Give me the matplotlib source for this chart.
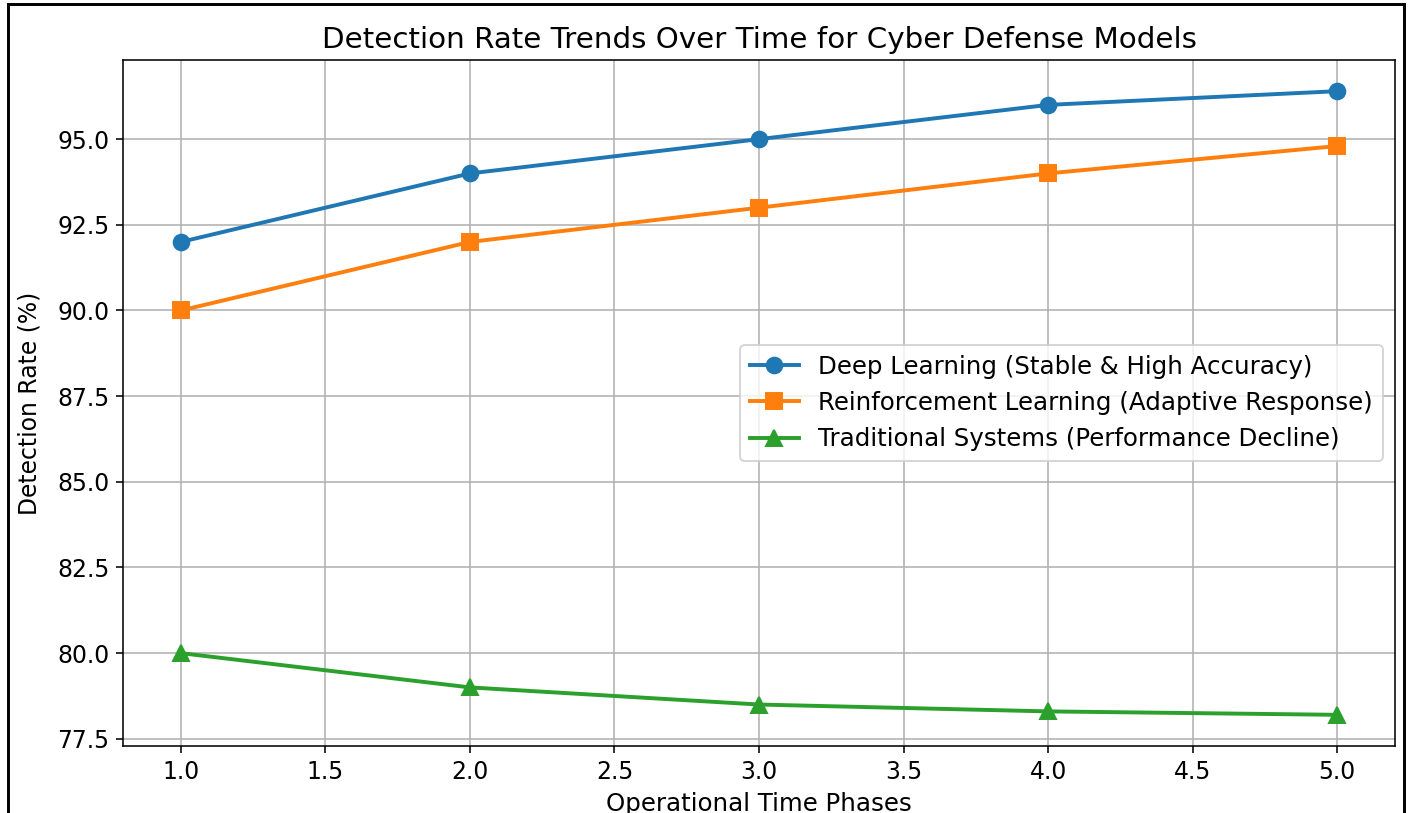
import matplotlib
matplotlib.use('Agg')
import matplotlib.pyplot as plt
from matplotlib.patches import Rectangle

# data
phases = [1.0, 2.0, 3.0, 4.0, 5.0]
deep_learning = [92.0, 94.0, 95.0, 96.0, 96.4]
reinforcement = [90.0, 92.0, 93.0, 94.0, 94.8]
traditional = [80.0, 79.0, 78.5, 78.3, 78.2]

fig = plt.figure(figsize=(10, 813 / 141), dpi=141)
ax = fig.add_axes([123 / 1410, 1 - 746 / 813, (1395 - 123) / 1410, (746 - 60) / 813])

ax.plot(phases, deep_learning, marker='o', lw=2, markersize=8,
        label='Deep Learning (Stable & High Accuracy)')
ax.plot(phases, reinforcement, marker='s', lw=2, markersize=8,
        label='Reinforcement Learning (Adaptive Response)')
ax.plot(phases, traditional, marker='^', lw=2, markersize=8,
        label='Traditional Systems (Performance Decline)')

ax.set_title('Detection Rate Trends Over Time for Cyber Defense Models', fontsize=15)
ax.set_xlabel('Operational Time Phases', fontsize=12.5)
ax.set_ylabel('Detection Rate (%)', fontsize=12, labelpad=8)
ax.tick_params(labelsize=12)
ax.grid(True)
ax.legend(loc='center right', fontsize=12.5)

# screenshot frame
fig.patches.append(Rectangle((8 / 1410, -0.1), (1404 - 8) / 1410, 1.1 - 4 / 813,
                             transform=fig.transFigure, fill=False,
                             edgecolor='black', lw=1.5))

fig.savefig('out.png', dpi=141)
